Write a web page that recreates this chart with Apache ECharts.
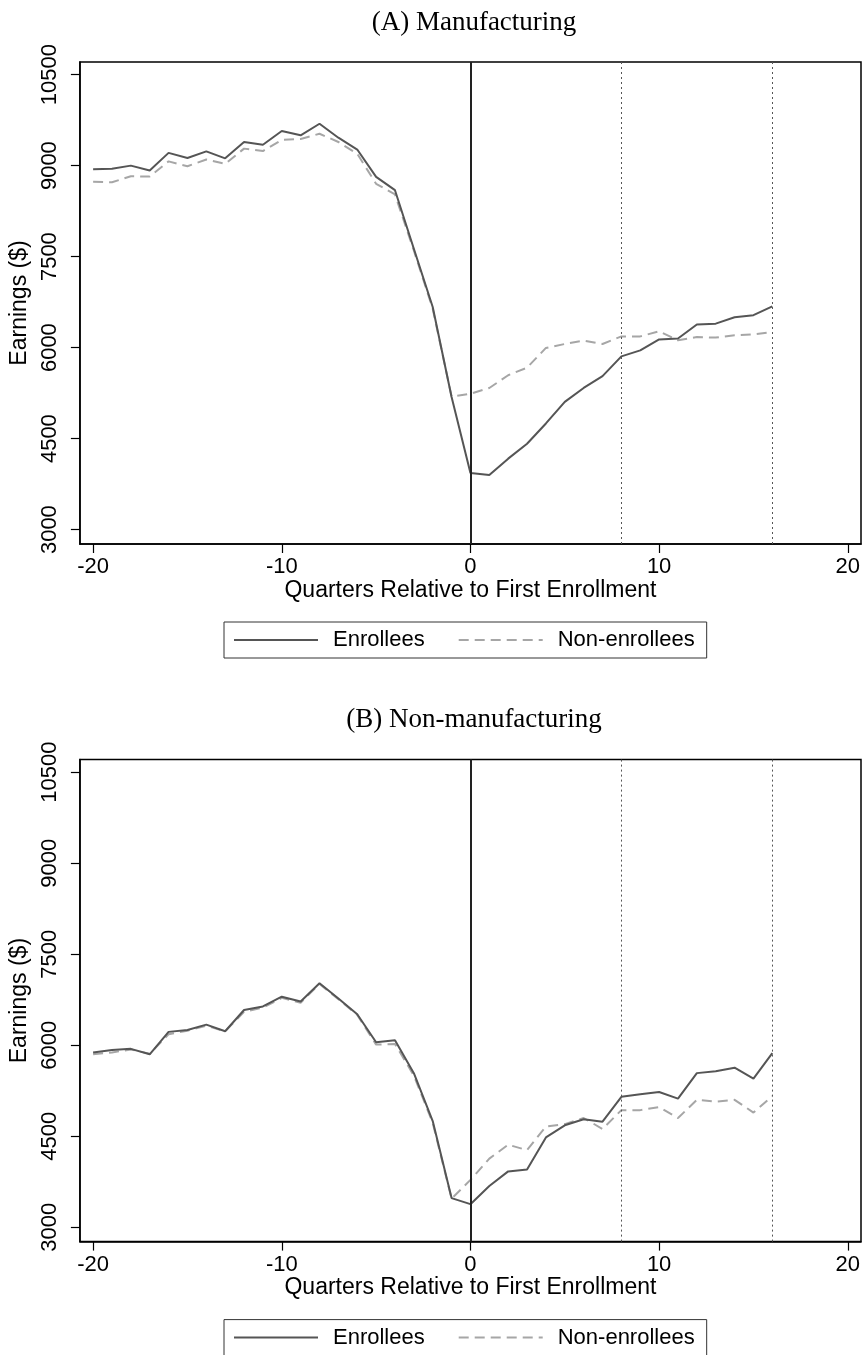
<!DOCTYPE html>
<html>
<head>
<meta charset="utf-8">
<script src="https://cdn.jsdelivr.net/npm/echarts@6/dist/echarts.min.js"></script>
<style>
html,body{margin:0;padding:0;background:#fff;}
#chart{width:863px;height:1355px;}
</style>
</head>
<body>
<div id="chart"></div>
<script>
// ---- data ----
const quarters = [-20,-19,-18,-17,-16,-15,-14,-13,-12,-11,-10,-9,-8,-7,-6,-5,-4,-3,-2,-1,0,1,2,3,4,5,6,7,8,9,10,11,12,13,14,15,16];
const mfgEnrollees = [8940,8950,9000,8920,9210,9125,9235,9120,9390,9345,9570,9500,9690,9460,9265,8815,8595,7630,6670,5185,3935,3900,4170,4415,4750,5105,5335,5530,5855,5955,6135,6150,6380,6395,6500,6535,6680];
const mfgNonEnrollees = [8735,8725,8825,8820,9070,8990,9100,9030,9280,9240,9425,9440,9525,9390,9195,8700,8525,7600,6640,5195,5240,5335,5545,5670,5995,6060,6115,6060,6185,6185,6270,6120,6175,6165,6205,6220,6255];
const nonMfgEnrollees = [5880,5920,5940,5850,6220,6250,6340,6230,6580,6640,6800,6720,7020,6770,6510,6050,6080,5540,4750,3480,3380,3680,3920,3950,4480,4680,4780,4740,5150,5190,5230,5120,5540,5570,5630,5450,5870];
const nonMfgNonEnrollees = [5850,5880,5930,5860,6180,6240,6320,6230,6550,6620,6780,6700,7010,6760,6500,6010,6020,5500,4720,3470,3780,4130,4360,4270,4660,4700,4800,4620,4930,4930,4980,4800,5100,5070,5100,4890,5160];
const xTicks = [-20,-10,0,10,20];
const yTicks = [3000,4500,6000,7500,9000,10500];
const refLines = [0,8,16];
const panelTitles = ['(A) Manufacturing','(B) Non-manufacturing'];
const seriesNames = ['Enrollees','Non-enrollees'];
const xTitle = 'Quarters Relative to First Enrollment';
const yTitle = 'Earnings ($)';

// ---- layout ----
const SANS = 'Liberation Sans, Arial, sans-serif';
const SERIF = 'Liberation Serif, Times New Roman, serif';
const OFFSET = 697.6;
const gridTop = [62, 62 + OFFSET];
const FS = 22;
const FT = 23;

function pairs(vals){ return quarters.map((q,i)=>[q, vals[i]]); }

const chart = echarts.init(document.getElementById('chart'), null, {renderer:'canvas'});

const grids = [], xAxes = [], yAxes = [], series = [], titles = [], legends = [];
const panels = [[mfgEnrollees, mfgNonEnrollees],[nonMfgEnrollees, nonMfgNonEnrollees]];

panels.forEach((pd, p) => {
  grids.push({left:77, top:gridTop[p], width:784, height:482, show:true, borderColor:'#000', borderWidth:1.5, containLabel:false});
  xAxes.push({
    type:'value', gridIndex:p, min:-20.7, max:20.7,
    name:xTitle, nameLocation:'middle', nameGap:34,
    nameTextStyle:{fontFamily:SANS, fontSize:FT, color:'#000'},
    axisLine:{show:true, onZero:false, lineStyle:{color:'#000', width:1.5}},
    axisTick:{show:true, length:9, lineStyle:{color:'#000', width:1.2}, customValues:xTicks},
    axisLabel:{fontFamily:SANS, fontSize:FS, color:'#000', margin:12, customValues:xTicks,
               formatter:(v)=>String(v)},
    splitLine:{show:false}
  });
  yAxes.push({
    type:'value', gridIndex:p, min:2763, max:10708,
    name:yTitle, nameLocation:'middle', nameGap:41, nameRotate:90,
    nameTextStyle:{fontFamily:SANS, fontSize:FT, color:'#000'},
    axisLine:{show:true, onZero:false, lineStyle:{color:'#000', width:1.5}},
    axisTick:{show:true, length:9, lineStyle:{color:'#000', width:1.2}, customValues:yTicks},
    axisLabel:{fontFamily:SANS, fontSize:FS, color:'#000', margin:19, rotate:90, customValues:yTicks,
               formatter:(v)=>String(v)},
    splitLine:{show:false}
  });
  series.push({
    name:seriesNames[0], type:'line', xAxisIndex:p, yAxisIndex:p,
    data:pairs(pd[0]), symbol:'none', showSymbol:false, smooth:false, z:3,
    lineStyle:{color:'#555', width:2, type:'solid'}, itemStyle:{color:'#555'},
    markLine:{
      silent:true, symbol:['none','none'], label:{show:false}, animation:false,
      data: refLines.map((v,i)=>({xAxis:v, lineStyle: i===0
        ? {color:'#222', width:2, type:'solid'}
        : {color:'#555', width:1, type:[2,3]}}))
    }
  });
  series.push({
    name:seriesNames[1], type:'line', xAxisIndex:p, yAxisIndex:p,
    data:pairs(pd[1]), symbol:'none', showSymbol:false, smooth:false, z:2,
    lineStyle:{color:'#a6a6a6', width:2, type:[10,6]}, itemStyle:{color:'#a6a6a6'}
  });
  titles.push({
    text:panelTitles[p], left:469, textAlign:'center', top:gridTop[p]-58,
    textStyle:{fontFamily:SERIF, fontSize:27, fontWeight:'normal', color:'#000'}
  });
  legends.push({
    data:seriesNames, left:224, top:gridTop[p]+560, orient:'horizontal',
    borderColor:'#333', borderWidth:1, padding:[7,12,7,9],
    itemWidth:84, itemHeight:14, itemGap:33,
    itemStyle:{opacity:0},
    textStyle:{fontFamily:SANS, fontSize:22, color:'#000', padding:[0,0,0,10]},
    selectedMode:false
  });
});

chart.setOption({
  animation:false,
  backgroundColor:'#fff',
  title:titles, legend:legends, grid:grids, xAxis:xAxes, yAxis:yAxes, series:series
});
</script>
</body>
</html>
